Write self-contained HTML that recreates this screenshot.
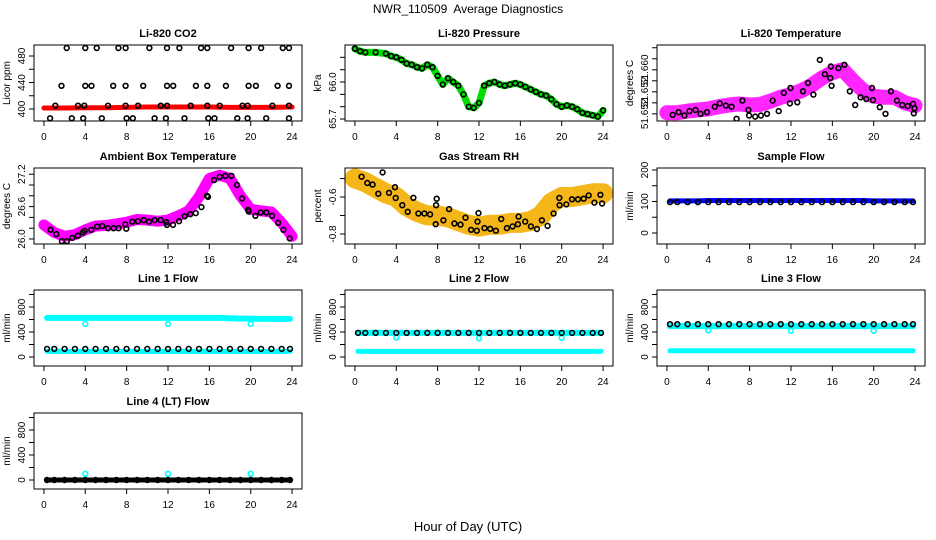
<!DOCTYPE html>
<html><head><meta charset="utf-8"><style>
html,body{margin:0;padding:0;background:#fff;}
svg{display:block;font-family:"Liberation Sans",sans-serif;}
</style></head><body>
<svg id="chart" width="936" height="540" viewBox="0 0 936 540" xmlns="http://www.w3.org/2000/svg">
<rect width="936" height="540" fill="#fff"/>
<text x="468" y="13" font-size="12" text-anchor="middle">NWR_110509&#160; Average Diagnostics</text>
<text x="468" y="531" font-size="13" text-anchor="middle">Hour of Day (UTC)</text>
</svg>
<script>
const NS="http://www.w3.org/2000/svg";
const svg=document.getElementById('chart');
const xTicks=[0,4,8,12,16,20,24];

// CO2
const co2TopHours=[2.2,4.0,5.1,7.2,7.9,10.2,11.9,13.1,15.2,15.8,18.1,19.8,21.0,23.1,23.7];
const co2TopVals=[492,492,492,492,492,492,492,492,492,492,492,492,492,492,492];
const co2MidHours=[1.7,4.0,4.6,6.7,7.9,9.6,11.9,12.5,14.7,15.8,17.6,19.8,20.5,22.6,23.7];
const co2MidVals=[435,435,435,435,435,435,435,435,435,435,435,435,435,435,435];
const co2LowHours=[1.1,3.3,3.9,6.2,7.9,9.1,11.3,11.9,14.2,15.8,17.0,19.2,19.7,22.1,23.7];
const co2LowVals=[405,405,405,405,405,405,405,405,405,405,405,405,405,405,405];
const co2BotHours=[0.6,2.7,3.8,5.6,8.0,8.6,10.7,11.8,13.6,15.9,16.5,18.7,19.7,21.5,23.7];
const co2BotVals=[386,386,386,386,386,386,386,386,386,386,386,386,386,386,386];
const co2RedHours=[0,2,4,6,8,10,12,14,16,18,20,22,24];
const co2RedVals=[401.5,401.5,402,402,402.5,403,403,403,403,402.5,402.5,402.5,403];

// Pressure
const presHours=[0,0.5,1,2,3,3.5,4,4.5,5,5.5,6,6.5,7,7.5,8,8.5,9,9.5,10,10.5,11,11.5,12,12.5,13,13.5,14,14.5,15,15.5,16,16.5,17,17.5,18,18.5,19,19.5,20,20.5,21,21.5,22,22.5,23,23.5,24];
const presVals=[66.27,66.25,66.24,66.24,66.23,66.21,66.2,66.18,66.15,66.14,66.12,66.11,66.14,66.12,66.05,65.98,66.03,66.0,65.97,65.9,65.8,65.79,65.83,65.97,65.99,66.0,65.98,65.97,65.98,65.99,65.98,65.96,65.94,65.92,65.9,65.89,65.86,65.82,65.8,65.81,65.8,65.78,65.75,65.74,65.73,65.72,65.77];

// Li-820 temperature
const ltPx=[160,178,195,210,228,243,262,285,300,318,335,350,367,385,387,405,422,440,457,475,490,508,510,530,547,562,578,597,612,628,630,632,652,670,686,702,718,735,752,755,775,792,808,826,842,858,874,878,876];
const ltHours=ltPx.map(p=>(p-143)/30.7);
const ltVals=[51.6478,51.6483,51.6477,51.6485,51.6487,51.6480,51.6483,51.6493,51.6499,51.6495,51.6493,51.6471,51.6504,51.6487,51.6477,51.6475,51.6477,51.6480,51.6504,51.6485,51.6518,51.6499,51.6527,51.6501,51.6521,51.6536,51.6515,51.6578,51.6552,51.6545,51.6566,51.6531,51.6563,51.6569,51.6521,51.6496,51.6510,51.6507,51.6527,51.6505,51.6492,51.6480,51.6521,51.6504,51.6496,51.6494,51.6498,51.6490,51.6481];
const ltBandHours=[0,1,2,3,4,5,6,7,8,9,10,11,12,13,14,15,16,17,18,19,20,21,22,23,24];
const ltBandVals=[51.6482,51.6482,51.6485,51.6487,51.6489,51.6493,51.6496,51.6498,51.6496,51.6497,51.6503,51.6510,51.6515,51.6522,51.6532,51.6545,51.6555,51.6560,51.6540,51.6522,51.6512,51.6510,51.6510,51.6500,51.6495];

// Ambient
const abPx=[148,165,182,197,213,230,245,250,270,287,303,320,337,352,372,375,393,410,427,443,460,478,495,497,515,533,550,567,583,600,617,620,638,655,672,690,707,722,740,742,762,778,795,812,830,846,865];
const abHours=abPx.map(p=>(p-128)/31);
const abVals=[26.17,26.09,25.96,25.96,26.02,26.06,26.12,26.15,26.17,26.23,26.24,26.2,26.2,26.2,26.27,26.19,26.32,26.33,26.35,26.32,26.35,26.35,26.31,26.26,26.26,26.33,26.42,26.46,26.48,26.59,26.8,26.78,27.09,27.15,27.17,27.17,27.0,26.75,26.54,26.51,26.43,26.49,26.49,26.43,26.3,26.17,26.01];
const abBandHours=[0,1,2,3,4,5,6,7,8,9,10,11,12,13,14,15,16,17,18,19,20,21,22,23,24];
const abBandVals=[26.26,26.12,26.05,26.08,26.17,26.24,26.25,26.28,26.31,26.36,26.35,26.33,26.35,26.43,26.52,26.78,27.12,27.18,27.12,26.8,26.55,26.52,26.5,26.3,26.05];

// RH
const rhPx=[155,172,188,205,237,255,257,277,293,310,325,343,360,377,378,380,400,417,433,451,466,483,500,502,505,523,540,557,573,590,607,623,625,645,662,680,695,712,730,747,748,768,785,803,820,835,852,870,875,218];
const rhHours=rhPx.map(p=>(p-135)/30.96);
const rhVals=[-0.49,-0.524,-0.533,-0.582,-0.577,-0.547,-0.605,-0.644,-0.68,-0.604,-0.689,-0.689,-0.694,-0.747,-0.644,-0.609,-0.726,-0.665,-0.743,-0.749,-0.712,-0.777,-0.782,-0.733,-0.687,-0.768,-0.772,-0.782,-0.719,-0.768,-0.759,-0.747,-0.706,-0.733,-0.759,-0.773,-0.726,-0.756,-0.689,-0.605,-0.644,-0.640,-0.612,-0.612,-0.609,-0.591,-0.63,-0.588,-0.635,-0.467];
const rhBandHours=[0,1,2,3,4,5,6,7,8,9,10,11,12,13,14,15,16,17,18,19,20,21,22,23,24];
const rhBandVals=[-0.5,-0.52,-0.55,-0.58,-0.6,-0.65,-0.68,-0.7,-0.7,-0.71,-0.73,-0.75,-0.76,-0.75,-0.75,-0.74,-0.74,-0.73,-0.7,-0.63,-0.6,-0.6,-0.59,-0.58,-0.58];

// Flows
const flowHours=[0.3,1,2,3,4,5,6,7,8,9,10,11,12,13,14,15,16,17,18,19,20,21,22,23,23.8];
const dipHours=[4,12,20];
const sampleBlue=[102,102,102,102,103,103,103,103,103,103,103,103,103,103,103,103,103,103,103,103,102,102,102,102,102];
const sampleBlack=[98,98,98,98,98,98,98,98,98,98,98,98,98,98,98,98,98,98,98,98,98,98,98,98,98];
const line1Cyan=[625,625,625,625,625,625,625,625,625,625,625,625,625,625,625,625,625,625,620,615,615,610,610,610,610];
const line1Dips=[530,530,530];
const line1Black=[130,130,130,130,130,130,130,130,130,130,130,130,130,130,130,130,130,130,130,130,130,130,130,130,130];
const line1CyanLow=[90,90,90,90,90,90,90,90,90,90,90,90,90,90,90,90,90,90,90,90,90,90,90,90,90];
const line2Cyan=[385,385,385,385,385,385,385,385,385,385,385,385,385,385,385,385,385,385,385,385,385,385,385,385,385];
const line2Dips=[310,300,305];
const line2Black=[385,385,385,385,385,385,385,385,385,385,385,385,385,385,385,385,385,385,385,385,385,385,385,385,385];
const line2CyanLow=[90,90,90,90,90,90,90,90,90,90,90,90,90,90,90,90,90,90,90,90,90,90,90,90,90];
const line3Cyan=[495,495,495,495,495,495,495,495,495,495,495,495,495,495,495,495,495,495,495,495,495,495,495,495,495];
const line3Dips=[425,420,420];
const line3Black=[525,525,525,525,525,525,525,525,525,525,525,525,525,525,525,525,525,525,525,525,525,525,525,525,525];
const line3CyanLow=[100,100,100,100,100,100,100,100,100,100,100,100,100,100,100,100,100,100,100,100,100,100,100,100,100];
const line4Dips=[100,100,100];
const line4Black=[0,0,0,0,0,0,0,0,0,0,0,0,0,0,0,0,0,0,0,0,0,0,0,0,0];

const colLeft=[34,345,657], rowTop=[45,168,290,413], W=268, H=76;

function mk(tag,attrs,parent){const e=document.createElementNS(NS,tag);for(const k in attrs)e.setAttribute(k,attrs[k]);(parent||svg).appendChild(e);return e;}

function panel(c,r,name,title,ylab,dom,yt,ytl,series){
  const L=colLeft[c],T=rowTop[r];
  const g=mk('g',{});
  
  
  const xs=h=>L+(h+0.96)/25.92*W;
  const ys=v=>T+H-(v-dom[0])/(dom[1]-dom[0])*H;
  const cp='cp'+c+r;
  const clip=mk('clipPath',{id:cp},g);mk('rect',{x:L,y:T,width:W,height:H},clip);
  const plot=mk('g',{'clip-path':'url(#'+cp+')'},g);
  series.forEach(s=>{
    const sg=mk('g',{},plot);
    
    
    if(s.band){
      const d=s.h.map((h,i)=>(i?'L':'M')+xs(h).toFixed(1)+','+ys(s.v[i]).toFixed(1)).join('');
      mk('path',{d:d,fill:'none',stroke:s.color,'stroke-width':s.band,'stroke-linecap':'round','stroke-linejoin':'round',opacity:s.op||1},sg);
    } else {
      s.h.forEach((h,i)=>{
        const ci=mk('circle',{cx:xs(h).toFixed(1),cy:ys(s.v[i]).toFixed(1),r:2.4,fill:'none',stroke:s.color,'stroke-width':1.6},sg);
        
        
      });
    }
  });
  const box=mk('rect',{x:L,y:T,width:W,height:H,fill:'none',stroke:'#000','stroke-width':1},g);
  
  
  const t=mk('text',{x:L+W/2,y:T-8,'font-size':11,'font-weight':'bold','text-anchor':'middle'},g);
  t.textContent=title;
  
  
  const yl=mk('text',{transform:'translate('+(L-24)+','+(T+H/2)+') rotate(-90)','font-size':10,'text-anchor':'middle'},g);
  yl.textContent=ylab;
  
  
  xTicks.forEach(h=>{
    const x=xs(h);
    mk('line',{x1:x,y1:T+H,x2:x,y2:T+H+5,stroke:'#000'},g);
    const tl=mk('text',{x:x,y:T+H+19,'font-size':10,'text-anchor':'middle'},g);
    tl.textContent=h;
    
    
  });
  yt.forEach((v,i)=>{
    const y=ys(v);
    mk('line',{x1:L-5,y1:y,x2:L,y2:y,stroke:'#000'},g);
    if(ytl[i]){
      const tl=mk('text',{transform:'translate('+(L-9)+','+y+') rotate(-90)','font-size':10,'text-anchor':'middle'},g);
      tl.textContent=ytl[i];
      
      
    }
  });
}

panel(0,0,'co2','Li-820 CO2','Licor ppm',[381.9,496.6],[400,420,440,460,480],['400','','440','','480'],[
  {name:'co2-red',band:5,color:'#ff0000',h:co2RedHours,v:co2RedVals},
  {name:'co2-top',color:'#000',h:co2TopHours,v:co2TopVals},
  {name:'co2-mid',color:'#000',h:co2MidHours,v:co2MidVals},
  {name:'co2-low',color:'#000',h:co2LowHours,v:co2LowVals},
  {name:'co2-bot',color:'#000',h:co2BotHours,v:co2BotVals}]);
panel(1,0,'pressure','Li-820 Pressure','kPa',[65.684,66.3],[65.7,65.8,65.9,66.0,66.1,66.2],['65.7','','','66.0','',''],[
  {name:'pressure-green',band:7,color:'#00dd00',h:presHours,v:presVals},
  {name:'pressure-black',color:'#000',h:presHours,v:presVals}]);
panel(2,0,'li820-temp','Li-820 Temperature','degrees C',[51.6467,51.6605],[51.648,51.650,51.652,51.654,51.656,51.658,51.660],['51.652','','51.652','','51.660','',''],[
  {name:'li820-temp-magenta',band:15,color:'#ff00ff',h:ltBandHours,v:ltBandVals,op:0.85},
  {name:'li820-temp-black',color:'#000',h:ltHours,v:ltVals}]);
panel(0,1,'ambient','Ambient Box Temperature','degrees C',[25.907,27.315],[26.0,26.2,26.4,26.6,26.8,27.0,27.2],['26.0','','','26.6','','','27.2'],[
  {name:'ambient-magenta',band:11,color:'#ff00ff',h:abBandHours,v:abBandVals},
  {name:'ambient-black',color:'#000',h:abHours,v:abVals}]);
panel(1,1,'gas-rh','Gas Stream RH','percent',[-0.854,-0.443],[-0.8,-0.7,-0.6,-0.5],['-0.8','','-0.6',''],[
  {name:'rh-orange',band:20,color:'#f4ae00',h:rhBandHours,v:rhBandVals,op:0.9},
  {name:'rh-black',color:'#000',h:rhHours,v:rhVals}]);
panel(2,1,'sample-flow','Sample Flow','ml/min',[-34.9,206.3],[0,50,100,150,200],['0','','100','','200'],[
  {name:'sample-blue',band:5,color:'#0000ff',h:flowHours,v:sampleBlue},
  {name:'sample-black',color:'#000',h:flowHours,v:sampleBlack}]);
const fT=[0,200,400,600,800,1000],fL=['0','','400','','800',''],fD=[-144,1072];
panel(0,2,'line1','Line 1 Flow','ml/min',fD,fT,fL,[
  {name:'line1-cyan',band:6,color:'#00ffff',h:flowHours,v:line1Cyan},
  {name:'line1-cyan-dips',color:'#00ffff',h:dipHours,v:line1Dips},
  {name:'line1-cyan-low',band:5,color:'#00ffff',h:flowHours,v:line1CyanLow},
  {name:'line1-black',color:'#000',h:flowHours,v:line1Black}]);
panel(1,2,'line2','Line 2 Flow','ml/min',fD,fT,fL,[
  {name:'line2-cyan',band:6,color:'#00ffff',h:flowHours,v:line2Cyan},
  {name:'line2-cyan-dips',color:'#00ffff',h:dipHours,v:line2Dips},
  {name:'line2-cyan-low',band:5,color:'#00ffff',h:flowHours,v:line2CyanLow},
  {name:'line2-black',color:'#000',h:flowHours,v:line2Black}]);
panel(2,2,'line3','Line 3 Flow','ml/min',fD,fT,fL,[
  {name:'line3-cyan',band:6,color:'#00ffff',h:flowHours,v:line3Cyan},
  {name:'line3-cyan-dips',color:'#00ffff',h:dipHours,v:line3Dips},
  {name:'line3-cyan-low',band:5,color:'#00ffff',h:flowHours,v:line3CyanLow},
  {name:'line3-black',color:'#000',h:flowHours,v:line3Black}]);
panel(0,3,'line4','Line 4 (LT) Flow','ml/min',fD,fT,fL,[
  {name:'line4-cyan-blips',color:'#00ffff',h:dipHours,v:line4Dips},
  {name:'line4-black',band:5,color:'#000',h:flowHours,v:line4Black},
  {name:'line4-black-points',color:'#000',h:flowHours,v:line4Black}]);
</script>
</body></html>
